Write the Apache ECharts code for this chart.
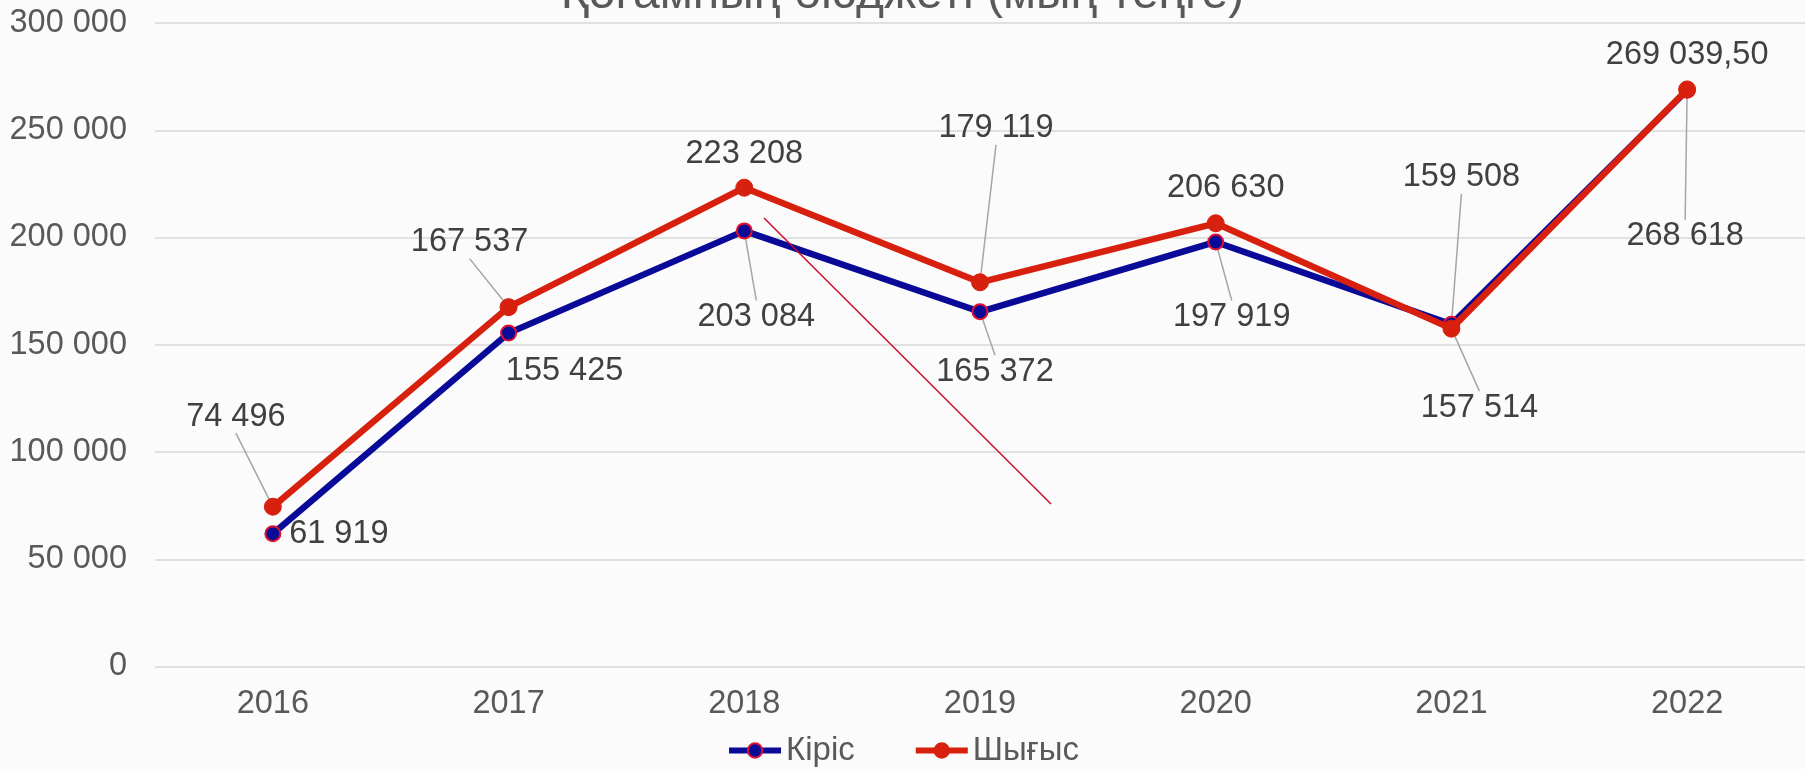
<!DOCTYPE html>
<html>
<head>
<meta charset="utf-8">
<script src="https://cdn.jsdelivr.net/npm/echarts@6/dist/echarts.min.js"></script>
<style>
  html, body { margin: 0; padding: 0; background: #fbfbfb; }
  #chart { width: 1805px; height: 769px; }
</style>
</head>
<body>
<div id="chart"></div>
<script>
// данные
var years = ['2016', '2017', '2018', '2019', '2020', '2021', '2022'];
var kiris = [61919, 155425, 203084, 165372, 197919, 159508, 268618];
var shygys = [74496, 167537, 223208, 179119, 206630, 157514, 269039.50];
var yTicks = [0, 50000, 100000, 150000, 200000, 250000, 300000];

// сдвиг подписей от точки (px)
var kirisShift = [[66, 0], [56, 38], [12, 86], [15, 60], [16, 75], [10, -147], [-2, 146]];
var shygysShift = [[-37, -90], [-39, -65], [0, -34], [16, -154], [10, -35], [28, 79], [0, -34]];
var kirisLeader = [false, false, true, true, true, true, true];
var shygysLeader = [true, true, false, true, false, true, false];

function fmt(v) {
    var intPart = Math.floor(v);
    var s = String(intPart).replace(/\B(?=(\d{3})+(?!\d))/g, ' ');
    if (v !== intPart) {
        s += ',' + (v - intPart).toFixed(2).slice(2);
    }
    return s;
}

function buildData(values, leader) {
    return values.map(function (v, i) {
        return { value: v, labelLine: { show: leader[i] } };
    });
}

var labelStyle = {
    show: true,
    position: 'inside',
    fontFamily: 'Liberation Sans, Arial, sans-serif',
    fontSize: 32.5,
    color: '#404040',
    formatter: function (p) { return fmt(p.value); }
};
var leaderStyle = { show: true, lineStyle: { color: '#a6a6a6', width: 1.5 } };

var chart = echarts.init(document.getElementById('chart'));
chart.setOption({
    backgroundColor: '#fbfbfb',
    animation: false,
    textStyle: { fontFamily: 'Liberation Sans, Arial, sans-serif' },
    title: {
        text: 'Қоғамның бюджеті (мың теңге)',
        left: 'center',
        top: -34,
        textStyle: { fontSize: 48, fontWeight: 'normal', color: '#595959' }
    },
    legend: {
        bottom: -3,
        left: 'center',
        itemWidth: 52,
        itemHeight: 18,
        itemGap: 58,
        textStyle: { fontSize: 33, color: '#595959' },
        data: [
            { name: 'Кіріс', lineStyle: { width: 6 } },
            { name: 'Шығыс', lineStyle: { width: 6 } }
        ]
    },
    grid: { left: 155, right: 0, top: 23, bottom: 102.5 },
    xAxis: {
        type: 'category',
        data: years,
        axisLine: { show: false },
        axisTick: { show: false },
        axisLabel: { fontSize: 32.5, color: '#595959', margin: 21 }
    },
    yAxis: {
        type: 'value',
        min: yTicks[0],
        max: yTicks[yTicks.length - 1],
        interval: 50000,
        axisLine: { show: false },
        axisTick: { show: false },
        splitLine: { lineStyle: { color: '#d9d9d9', width: 1.5 } },
        axisLabel: { fontSize: 32.5, color: '#595959', margin: 28, formatter: fmt }
    },
    series: [
        {
            name: 'Кіріс',
            type: 'line',
            data: buildData(kiris, kirisLeader),
            symbol: 'circle',
            symbolSize: 15,
            lineStyle: { color: '#0a0a99', width: 6.5 },
            itemStyle: { color: '#0a0a99', borderColor: '#e0102f', borderWidth: 2 },
            label: labelStyle,
            labelLine: leaderStyle,
            labelLayout: function (p) {
                return { dx: kirisShift[p.dataIndex][0], dy: kirisShift[p.dataIndex][1] };
            },
            z: 3
        },
        {
            name: 'Шығыс',
            type: 'line',
            data: buildData(shygys, shygysLeader),
            symbol: 'circle',
            symbolSize: 17,
            lineStyle: { color: '#d8200e', width: 6.5 },
            itemStyle: { color: '#d8200e', borderColor: '#d8200e', borderWidth: 1 },
            label: labelStyle,
            labelLine: leaderStyle,
            labelLayout: function (p) {
                return { dx: shygysShift[p.dataIndex][0], dy: shygysShift[p.dataIndex][1] };
            },
            z: 4
        }
    ],
    graphic: [
        {
            type: 'line',
            shape: { x1: 764, y1: 218, x2: 1051, y2: 504 },
            style: { stroke: '#c8102e', lineWidth: 1.5 },
            z: 10
        }
    ]
});
</script>
</body>
</html>
